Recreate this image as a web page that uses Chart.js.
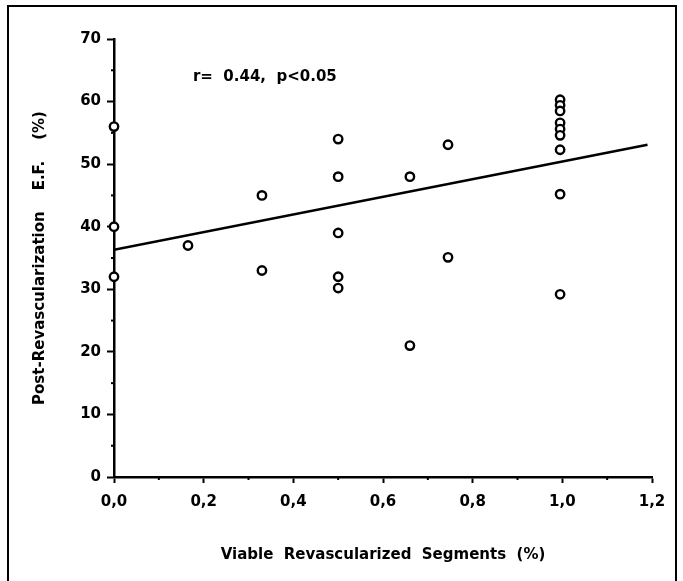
<!DOCTYPE html>
<html>
<head>
<meta charset="utf-8">
<script src="https://cdn.jsdelivr.net/npm/chart.js@4"></script>
<style>
  html, body { margin: 0; padding: 0; background: #fff; }
  #wrap { width: 683px; height: 581px; }
</style>
</head>
<body>
<div id="wrap"><canvas id="chart" width="683" height="581"></canvas></div>
<script>
// values
const viable = [0, 0, 0, 0.165, 0.33, 0.33, 0.5, 0.5, 0.5, 0.5, 0.5, 0.66, 0.66, 0.745, 0.745,
  0.995, 0.995, 0.995, 0.995, 0.995, 0.995, 0.995, 0.995, 0.995];
const postEF = [56, 40, 32, 37, 45, 33, 54, 48, 39, 32, 30.2, 48, 21, 53.1, 35.1,
  60.3, 59.4, 58.5, 56.6, 55.6, 54.6, 52.3, 45.2, 29.2];
const fitX = [0, 1.19];
const fitY = [36.3, 53.1];
const xTickLabels = ['0,0', '0,2', '0,4', '0,6', '0,8', '1,0', '1,2'];
const yTickLabels = ['0', '10', '20', '30', '40', '50', '60', '70'];
const statsText = 'r=  0.44,  p<0.05';

const FONT = "'DejaVu Sans', Verdana, sans-serif";

const points = viable.map((x, i) => ({ x: x, y: postEF[i] }));
const fitLine = fitX.map((x, i) => ({ x: x, y: fitY[i] }));

// short minor ticks, frame and the r/p note
const extras = {
  id: 'extras',
  afterDraw(chart) {
    const ctx = chart.ctx;
    const xs = chart.scales.x, ys = chart.scales.y;
    ctx.save();
    ctx.strokeStyle = '#000';
    ctx.lineWidth = 2;
    // minor ticks
    for (let v = 5; v < 70; v += 10) {
      const py = ys.getPixelForValue(v);
      ctx.beginPath();
      ctx.moveTo(xs.left - 3, py);
      ctx.lineTo(xs.left, py);
      ctx.stroke();
    }
    for (let v = 0.1; v < 1.2; v += 0.2) {
      const px = xs.getPixelForValue(v);
      ctx.beginPath();
      ctx.moveTo(px, ys.bottom);
      ctx.lineTo(px, ys.bottom + 3);
      ctx.stroke();
    }
    // frame (bottom edge runs off the picture)
    ctx.lineWidth = 2;
    ctx.strokeRect(8, 6, 668, 590);
    // note
    ctx.fillStyle = '#000';
    ctx.font = 'bold 15px ' + FONT;
    ctx.textBaseline = 'middle';
    ctx.textAlign = 'left';
    ctx.fillText(statsText, xs.getPixelForValue(0.176), ys.getPixelForValue(63.9));
    ctx.restore();
  }
};

new Chart(document.getElementById('chart'), {
  type: 'scatter',
  data: {
    datasets: [
      {
        type: 'line',
        data: fitLine,
        borderColor: '#000',
        borderWidth: 2.5,
        pointRadius: 0,
        fill: false,
        order: 2
      },
      {
        data: points,
        pointRadius: 4.2,
        pointBorderWidth: 2.4,
        pointBorderColor: '#000',
        pointBackgroundColor: '#fff',
        clip: false,
        order: 1
      }
    ]
  },
  options: {
    responsive: false,
    animation: false,
    layout: { padding: { left: 0, top: 39, right: 31, bottom: 0 } },
    plugins: { legend: { display: false }, tooltip: { enabled: false } },
    scales: {
      x: {
        type: 'linear',
        min: 0,
        max: 1.2,
        afterFit(scale) { scale.height = 104; },
        border: { color: '#000', width: 2.5 },
        grid: {
          drawOnChartArea: false,
          tickLength: 6,
          tickWidth: 2,
          tickColor: (c) => (c.index % 2 === 0 ? '#000' : 'rgba(0,0,0,0)')
        },
        ticks: {
          stepSize: 0.1,
          autoSkip: false,
          maxRotation: 0,
          padding: 10,
          color: '#000',
          font: { family: FONT, size: 15, weight: 'bold' },
          callback: (v, i) => (i % 2 === 0 ? xTickLabels[i / 2] : '')
        },
        title: {
          display: true,
          text: 'Viable  Revascularized  Segments  (%)',
          color: '#000',
          font: { family: FONT, size: 15, weight: 'bold' },
          padding: { top: 0, bottom: 17 }
        }
      },
      y: {
        type: 'linear',
        min: 0,
        max: 70,
        afterFit(scale) { scale.width = 114; },
        border: { color: '#000', width: 2.5 },
        grid: {
          drawOnChartArea: false,
          tickLength: 7,
          tickWidth: 2,
          tickColor: '#000'
        },
        ticks: {
          stepSize: 10,
          padding: 6,
          color: '#000',
          font: { family: FONT, size: 15, weight: 'bold' },
          callback: (v, i) => yTickLabels[i]
        },
        title: {
          display: true,
          text: 'Post-Revascularization    E.F.    (%)',
          color: '#000',
          font: { family: FONT, size: 15, weight: 'bold' },
          padding: { top: 31, bottom: 0 }
        }
      }
    }
  },
  plugins: [extras]
});
</script>
</body>
</html>
